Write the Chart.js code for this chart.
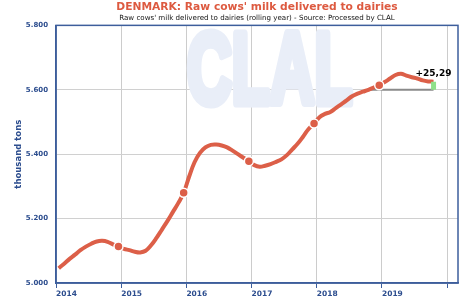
<!DOCTYPE html>
<html>
<head>
<meta charset="utf-8">
<script src="https://cdn.jsdelivr.net/npm/chart.js@4"></script>
<style>
  html, body { margin: 0; padding: 0; background: #fff; }
  #box { width: 462px; height: 308px; }
</style>
</head>
<body>
<div id="box"><canvas id="grafico"></canvas></div>
<script>
// Dati: consegne di latte (media mobile annua), migliaia di tonnellate, da gen 2014 (mese 0)
const consegne = [
  5046, 5060, 5075, 5088, 5102, 5113, 5122, 5129, 5131, 5128, 5120, 5113,
  5106, 5102, 5097, 5095, 5100, 5117, 5140, 5166, 5192, 5220, 5248, 5280,
  5330, 5375, 5404, 5421, 5429, 5430, 5427, 5421, 5411, 5400, 5389, 5378,
  5366, 5361, 5364, 5369, 5376, 5384, 5397, 5415, 5433, 5455, 5478, 5495,
  5515, 5525, 5531, 5543, 5555, 5567, 5580, 5588, 5594, 5600, 5607, 5614,
  5624, 5635, 5646, 5650, 5644, 5639, 5635, 5629, 5626, 5625.29
]
// ogni valore sta a metà del suo mese
const mesi = consegne.map((v, i) => i + 0.5)

// Mesi con il pallino (dicembre di ogni anno)
const mesiPallino = [11, 23, 35, 47, 59]
// Etichette degli anni sull'asse x (un tick ogni 12 mesi)
const anni = ['2014', '2015', '2016', '2017', '2018', '2019']
// Confronto con lo stesso mese dell'anno prima
const meseRif = 57
const variazione = '+25,29'

const rosso = '#dc5f48'
const blu = '#2c4d8e'
const font = '"DejaVu Sans", Verdana, sans-serif'

let puntiLinea = mesi.map((m, i) => ({x: m, y: consegne[i]}))
let ultimo = puntiLinea[puntiLinea.length - 1]
let valoreRif = consegne[meseRif]

// Scritta CLAL sullo sfondo + bordo del grafico + etichetta della variazione
const extra = {
  id: 'extra',
  beforeDatasetsDraw(chart) {
    const {ctx} = chart
    ctx.save()
    ctx.fillStyle = '#e9eef8'
    ctx.strokeStyle = '#e9eef8'
    ctx.lineWidth = 9
    ctx.lineJoin = 'round'
    ctx.font = 'bold 100px "Liberation Sans", Arial, sans-serif'
    ctx.textBaseline = 'alphabetic'
    ctx.translate(187, 103)
    ctx.scale(0.62, 1)
    ctx.strokeText('CLAL', 0, 0)
    ctx.fillText('CLAL', 0, 0)
    ctx.restore()
  },
  afterDatasetsDraw(chart) {
    const {ctx, chartArea, scales} = chart
    ctx.save()
    ctx.strokeStyle = '#3d5e9c'
    ctx.lineWidth = 1.5
    ctx.strokeRect(chartArea.left, chartArea.top, chartArea.right - chartArea.left, chartArea.bottom - chartArea.top)
    ctx.fillStyle = '#000'
    ctx.font = 'bold 9px ' + font
    ctx.textAlign = 'center'
    ctx.textBaseline = 'bottom'
    ctx.fillText(variazione, scales.x.getPixelForValue(ultimo.x), scales.y.getPixelForValue(ultimo.y) - 3)
    ctx.restore()
  }
}

new Chart(document.getElementById('grafico'), {
  type: 'line',
  data: {
    datasets: [
      {
        // linea grigia al livello dell'anno prima
        data: [{x: mesi[meseRif], y: valoreRif}, {x: ultimo.x, y: valoreRif}],
        borderColor: '#8a8a8a',
        borderWidth: 2,
        pointRadius: 0,
        order: 3
      },
      {
        data: puntiLinea,
        borderColor: rosso,
        borderWidth: 4,
        tension: 0.4,
        pointRadius: consegne.map((v, i) => mesiPallino.includes(i) ? 4.5 : 0),
        pointBackgroundColor: rosso,
        pointBorderColor: '#fff',
        pointBorderWidth: 1.5,
        order: 2
      },
      {
        // barretta verde della variazione
        data: [{x: ultimo.x, y: valoreRif}, {x: ultimo.x, y: ultimo.y}],
        borderColor: '#8fe08a',
        borderWidth: 5,
        pointRadius: 0,
        order: 1
      }
    ]
  },
  options: {
    responsive: true,
    maintainAspectRatio: false,
    animation: false,
    layout: { padding: {left: 14, right: 4, top: 1, bottom: 7} },
    plugins: {
      legend: { display: false },
      tooltip: { enabled: false },
      title: {
        display: true,
        fullSize: false,
        text: "DENMARK: Raw cows' milk delivered to dairies",
        color: '#dd5a40',
        font: {family: font, size: 10.7, weight: 'bold'},
        padding: {top: 0, bottom: 0}
      },
      subtitle: {
        display: true,
        fullSize: false,
        text: "Raw cows' milk delivered to dairies (rolling year) - Source: Processed by CLAL",
        color: '#111',
        font: {family: font, size: 7.1},
        padding: {top: 0, bottom: 3}
      }
    },
    scales: {
      x: {
        type: 'linear',
        min: 0,
        max: 74,
        grid: { color: '#cccccc', tickColor: '#3d5e9c', tickLength: 5 },
        border: { color: '#3d5e9c', width: 1.5 },
        ticks: {
          stepSize: 12,
          includeBounds: false,
          align: 'start',
          maxRotation: 0,
          padding: 2,
          color: blu,
          font: {family: font, size: 7.5, weight: 'bold'},
          callback: v => anni[v / 12] || ''
        }
      },
      y: {
        min: 5000,
        max: 5800,
        afterFit: scala => { scala.width = 42 },
        grid: { color: '#d0d0d0', drawTicks: false },
        border: { color: '#3d5e9c', width: 1.5 },
        title: {
          display: true,
          text: 'thousand tons',
          color: blu,
          font: {family: font, size: 8.5, weight: 'bold'},
          padding: {top: 0, bottom: 2}
        },
        ticks: {
          stepSize: 200,
          padding: 8,
          color: blu,
          font: {family: font, size: 7, weight: 'bold'},
          callback: v => (v / 1000).toFixed(3)
        }
      }
    }
  },
  plugins: [extra]
})
</script>
</body>
</html>
